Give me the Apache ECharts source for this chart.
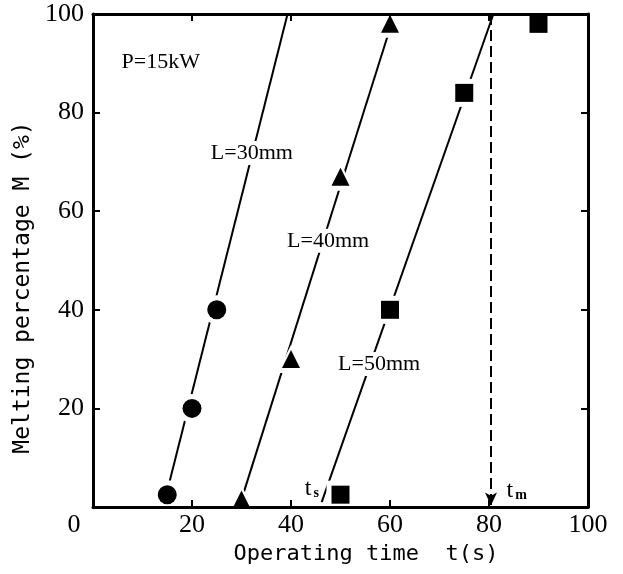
<!DOCTYPE html>
<html>
<head>
<meta charset="utf-8">
<script src="https://cdn.jsdelivr.net/npm/echarts@6/dist/echarts.min.js"></script>
<style>
  html, body { margin: 0; padding: 0; background: #fff; }
  #chart { width: 623px; height: 574px; }
</style>
</head>
<body>
<div id="chart"></div>
<script>
// Measured points: operating time t (s) vs melting percentage M (%)
const L30 = [[15, 2.5], [20, 20], [25, 40]];
const L40 = [[30, 1.5], [40, 30], [50, 67], [60, 98]];
const L50 = [[50, 2.5], [60, 40], [75, 84], [90, 98]];

// Straight-line fits through each set (start and end of each line)
const fit30 = [[14.8, 2.5], [39.3, 100]];
const fit40 = [[30, 1.5], [60.6, 99]];
const fit50 = [[46.2, 1], [80.9, 100]];

// Melting completion time t_m (dashed marker)
const tm = 80.4;

// Text annotations placed in data coordinates
const notes = [
  { text: 'P=15kW', at: [13.7, 90.3] },
  { text: 'L=30mm', at: [32.1, 71.8] },
  { text: 'L=40mm', at: [47.5, 54] },
  { text: 'L=50mm', at: [57.8, 29] },
  { text: '{t|t}{s|s}', at: [44.2, 3.8] },
  { text: '{t|t}{s|m}', at: [85.6, 3.4] }
];

const xTicks = { min: 0, max: 100, interval: 20 };
const yTicks = { min: 0, max: 100, interval: 20 };

const serif = 'Liberation Serif';
const mono = 'DejaVu Sans Mono';
const ink = '#000';

function fitSeries(d) {
  return {
    type: 'line', data: d, symbol: 'none', z: 2,
    lineStyle: { color: ink, width: 2 }, silent: true
  };
}
function haloSeries(d, symbol, size) {
  return {
    type: 'scatter', data: d, symbol: symbol, symbolSize: size, z: 3,
    itemStyle: { color: '#fff', opacity: 1 }, silent: true
  };
}
function markSeries(d, symbol, size) {
  return {
    type: 'scatter', data: d, symbol: symbol, symbolSize: size, z: 4,
    itemStyle: { color: ink, opacity: 1 }, silent: true
  };
}

const chart = echarts.init(document.getElementById('chart'), null, { renderer: 'canvas' });

const frame = {
  axisLine: { show: true, onZero: false, lineStyle: { color: ink, width: 3 } },
  axisTick: { show: true, inside: true, length: 7, lineStyle: { color: ink, width: 2 } },
  splitLine: { show: false }
};

chart.setOption({
  animation: false,
  backgroundColor: '#fff',
  grid: { left: 93, right: 35, top: 14, bottom: 67 },
  xAxis: [
    Object.assign({
      type: 'value', position: 'bottom', z: 10,
      min: xTicks.min, max: xTicks.max, interval: xTicks.interval,
      name: 'Operating time  t(s)', nameLocation: 'middle', nameGap: 33,
      nameTextStyle: { fontFamily: mono, fontSize: 22, color: ink, padding: [0, 0, 0, 51] },
      axisLabel: {
        margin: 5, fontFamily: serif, fontSize: 26, color: ink,
        formatter: v => v === 0 ? '{z|0}' : String(v),
        rich: { z: { fontFamily: serif, fontSize: 26, color: ink, padding: [0, 38, 0, 0] } }
      }
    }, frame),
    Object.assign({
      type: 'value', position: 'top', z: 10,
      min: xTicks.min, max: xTicks.max, interval: xTicks.interval,
      axisLabel: { show: false }
    }, frame)
  ],
  yAxis: [
    Object.assign({
      type: 'value', position: 'left', z: 10,
      min: yTicks.min, max: yTicks.max, interval: yTicks.interval,
      name: 'Melting percentage M (%)', nameLocation: 'middle', nameGap: 51, nameRotate: 90,
      nameTextStyle: { fontFamily: mono, fontSize: 23, color: ink, padding: [0, 54, 0, 0] },
      axisLabel: {
        margin: 9, fontFamily: serif, fontSize: 26, color: ink,
        formatter: v => v === 0 ? '' : String(v)
      }
    }, frame),
    Object.assign({
      type: 'value', position: 'right', z: 10,
      min: yTicks.min, max: yTicks.max, interval: yTicks.interval,
      axisLabel: { show: false }
    }, frame)
  ],
  series: [
    fitSeries(fit30),
    fitSeries(fit40),
    fitSeries(fit50),
    {
      type: 'line', data: [], silent: true, z: 2,
      markLine: {
        silent: true, animation: false,
        symbol: ['none', 'arrow'], symbolSize: [9, 13],
        label: { show: false },
        lineStyle: { color: ink, width: 2, type: [11, 5] },
        data: [[{ coord: [tm, 100] }, { coord: [tm, 0.3] }]]
      }
    },
    haloSeries(L30, 'circle', 29),
    haloSeries(L40, 'triangle', 28),
    haloSeries(L50, 'rect', 28),
    markSeries(L30, 'circle', 19),
    markSeries(L40, 'triangle', 18),
    markSeries(L50, 'rect', 18),
    {
      type: 'scatter', symbolSize: 0, z: 6, silent: true,
      itemStyle: { opacity: 1 },
      data: notes.map(n => ({ value: n.at, name: n.text })),
      label: {
        show: true, position: 'inside', formatter: p => p.name,
        fontFamily: serif, fontSize: 22, color: ink,
        backgroundColor: '#fff', padding: [1, 2],
        rich: {
          t: { fontFamily: serif, fontSize: 24, color: ink, verticalAlign: 'bottom' },
          s: { fontFamily: serif, fontSize: 14, color: ink, fontWeight: 'bold', verticalAlign: 'bottom', padding: [6, 0, 0, 2] }
        }
      }
    }
  ]
});
</script>
</body>
</html>
